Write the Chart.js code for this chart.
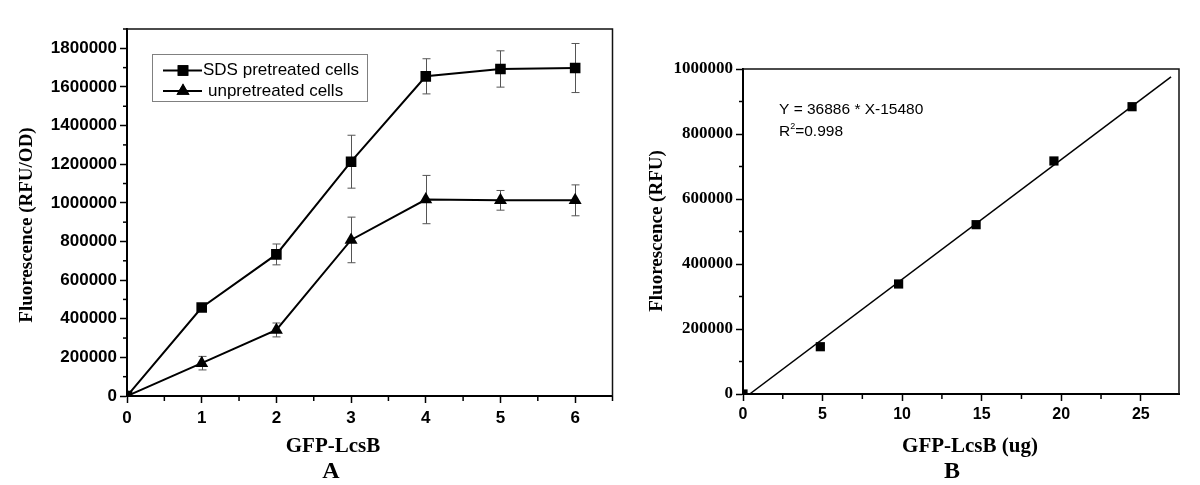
<!DOCTYPE html>
<html><head><meta charset="utf-8">
<script src="https://cdn.jsdelivr.net/npm/chart.js@4.4.1/dist/chart.umd.min.js"></script>
<style>
html,body{margin:0;padding:0;background:#fff;width:1200px;height:485px;overflow:hidden;}
#a{position:absolute;left:0;top:0;}
#b{position:absolute;left:620px;top:0;}
</style></head><body>
<canvas id="a" width="620" height="485"></canvas>
<canvas id="b" width="580" height="485"></canvas>
<script>
// ---- Panel A data ----
const doseA = [0, 1, 2, 3, 4, 5, 6];
const sdsPretreated = [0, 458000, 733000, 1213000, 1655000, 1693000, 1698000];
const sdsErrors = [0, 0, 54000, 137000, 91000, 94000, 127000];
const unpretreated = [0, 170000, 342000, 808000, 1017000, 1013000, 1013000];
const unpErrors = [0, 35000, 36000, 118000, 125000, 51000, 80000];
const xTicksA = [0, 1, 2, 3, 4, 5, 6];
const xMinorA = [0.5, 1.5, 2.5, 3.5, 4.5, 5.5, 6.5];
const yTicksA = [0, 200000, 400000, 600000, 800000, 1000000, 1200000, 1400000, 1600000, 1800000];
const yMinorA = [100000, 300000, 500000, 700000, 900000, 1100000, 1300000, 1500000, 1700000, 1900000];
const legendA = ['SDS pretreated cells', 'unpretreated cells'];

// ---- Panel B data ----
const massB = [0, 4.86, 9.78, 14.65, 19.54, 24.45];
const fluorB = [0, 145500, 338500, 521000, 717000, 884000];
const fitX = [0.42, 26.9];
const fitY = [0, 976000];
const xTicksB = [0, 5, 10, 15, 20, 25];
const xMinorB = [2.5, 7.5, 12.5, 17.5, 22.5];
const yTicksB = [0, 200000, 400000, 600000, 800000, 1000000];
const yMinorB = [100000, 300000, 500000, 700000, 900000];

const SANS = '"Liberation Sans", Arial, sans-serif';
const SERIF = '"Liberation Serif", "Times New Roman", serif';

function pts(xs, ys){ return xs.map((x,i)=>({x:x, y:ys[i]})); }

function text(ctx, s, x, y, font, align, rot){
  ctx.save(); ctx.font = font; ctx.fillStyle = '#000';
  ctx.textAlign = align || 'center'; ctx.textBaseline = 'middle';
  ctx.translate(x, y); if (rot) ctx.rotate(rot);
  ctx.fillText(s, 0, 0); ctx.restore();
}

function minor(chart, id, values, len){
  const s = chart.scales[id], ctx = chart.ctx;
  ctx.save(); ctx.strokeStyle = '#000'; ctx.lineWidth = 1.5;
  values.forEach(v=>{
    const p = s.getPixelForValue(v);
    ctx.beginPath();
    if (s.isHorizontal()) { ctx.moveTo(p, s.top); ctx.lineTo(p, s.top + len); }
    else { ctx.moveTo(s.right, p); ctx.lineTo(s.right - len, p); }
    ctx.stroke();
  });
  ctx.restore();
}

function frame(chart){
  const a = chart.chartArea, ctx = chart.ctx;
  ctx.save(); ctx.strokeStyle = '#111'; ctx.lineWidth = 1.5;
  ctx.beginPath(); ctx.moveTo(a.left, a.top); ctx.lineTo(a.right, a.top); ctx.lineTo(a.right, a.bottom); ctx.stroke();
  ctx.restore();
}

const errorBars = {
  id: 'errorBars',
  beforeDatasetsDraw(chart){
    const ctx = chart.ctx, xs = chart.scales.x, ys = chart.scales.y;
    ctx.save(); ctx.strokeStyle = '#555'; ctx.lineWidth = 1;
    chart.data.datasets.forEach(ds=>{
      if (!ds.errors) return;
      ds.data.forEach((p,i)=>{
        const e = ds.errors[i]; if (!e) return;
        const px = Math.round(xs.getPixelForValue(p.x)) + 0.5;
        const y1 = ys.getPixelForValue(p.y + e), y2 = ys.getPixelForValue(p.y - e);
        ctx.beginPath();
        ctx.moveTo(px, y1); ctx.lineTo(px, y2);
        ctx.moveTo(px - 4, y1); ctx.lineTo(px + 4, y1);
        ctx.moveTo(px - 4, y2); ctx.lineTo(px + 4, y2);
        ctx.stroke();
      });
    });
    ctx.restore();
  }
};

function axisOpts(min, max, ticks, font, w, isX, pad){
  return {
    type: 'linear', min: min, max: max,
    afterBuildTicks(s){ s.ticks = ticks.map(v=>({value:v})); },
    afterFit(s){ if (isX) s.height = w; else s.width = w; },
    grid: { drawOnChartArea: false, drawTicks: true, tickLength: 7, tickColor: '#000', tickWidth: 1.5 },
    border: { display: true, color: '#000', width: 2 },
    ticks: { color: '#000', font: font, padding: pad, maxRotation: 0, autoSkip: false,
             callback: (v)=> String(v) }
  };
}

// ---------------- Chart A ----------------
new Chart(document.getElementById('a'), {
  type: 'scatter',
  data: { datasets: [
    { label: legendA[0], data: pts(doseA, sdsPretreated), errors: sdsErrors, showLine: true,
      borderColor: '#000', borderWidth: 2, backgroundColor: '#000', pointBackgroundColor: '#000',
      pointBorderColor: '#000', pointStyle: 'rect', pointRadius: 7.5, pointBorderWidth: 0 },
    { label: legendA[1], data: pts(doseA, unpretreated), errors: unpErrors, showLine: true,
      borderColor: '#000', borderWidth: 2, backgroundColor: '#000', pointBackgroundColor: '#000',
      pointBorderColor: '#000', pointStyle: 'triangle', pointRadius: 7.5, pointBorderWidth: 0 }
  ]},
  options: {
    responsive: false, animation: false, devicePixelRatio: 1,
    layout: { padding: { left: 0, right: 2, top: 29, bottom: 0 } },
    plugins: { legend: { display: false }, tooltip: { enabled: false } },
    scales: {
      x: axisOpts(0, 6.5, xTicksA, { family: SANS, size: 17, weight: 'bold' }, 89, true, 5),
      y: axisOpts(0, 1900000, yTicksA, { family: SANS, size: 17, weight: 'bold' }, 127, false, 3)
    }
  },
  plugins: [errorBars, {
    id: 'decorA',
    afterDraw(chart){
      const ctx = chart.ctx;
      frame(chart);
      minor(chart, 'x', xMinorA, 5);
      minor(chart, 'y', yMinorA, 4);
      text(ctx, 'Fluorescence (RFU/OD)', 27, 225, 'bold 19px ' + SERIF, 'center', -Math.PI/2);
      text(ctx, 'GFP-LcsB', 333, 447, 'bold 21px ' + SERIF);
      text(ctx, 'A', 331, 472, 'bold 24px ' + SERIF);
      // legend
      ctx.save();
      ctx.strokeStyle = '#808080'; ctx.lineWidth = 1;
      ctx.strokeRect(152.5, 54.5, 215, 47);
      ctx.strokeStyle = '#000'; ctx.lineWidth = 2; ctx.fillStyle = '#000';
      const rows = [70.5, 91];
      rows.forEach((y, i)=>{
        ctx.beginPath(); ctx.moveTo(163, y); ctx.lineTo(202, y); ctx.stroke();
        Chart.helpers.drawPoint(ctx, { pointStyle: i === 0 ? 'rect' : 'triangle', radius: 7.5, borderWidth: 0 }, 183, y);
        ctx.fill();
      });
      ctx.restore();
      text(ctx, legendA[0], 203, 70.5, '17px ' + SANS, 'left');
      text(ctx, legendA[1], 208, 91, '17px ' + SANS, 'left');
    }
  }]
});

// ---------------- Chart B ----------------
new Chart(document.getElementById('b'), {
  type: 'scatter',
  data: { datasets: [
    { label: 'data', data: pts(massB, fluorB), showLine: false,
      backgroundColor: '#000', pointBackgroundColor: '#000', pointBorderColor: '#000',
      pointStyle: 'rect', pointRadius: 6.5, pointBorderWidth: 0 },
    { label: 'fit', data: pts(fitX, fitY), showLine: true, borderColor: '#000', borderWidth: 1.5,
      pointRadius: 0 }
  ]},
  options: {
    responsive: false, animation: false, devicePixelRatio: 1,
    layout: { padding: { left: 0, right: 21, top: 69, bottom: 0 } },
    plugins: { legend: { display: false }, tooltip: { enabled: false } },
    scales: {
      x: axisOpts(0, 27.4, xTicksB, { family: SANS, size: 16, weight: 'bold' }, 91, true, 4),
      y: axisOpts(0, 1000000, yTicksB, { family: SERIF, size: 17, weight: 'bold' }, 123, false, 3)
    }
  },
  plugins: [{
    id: 'decorB',
    afterDraw(chart){
      const ctx = chart.ctx;
      frame(chart);
      minor(chart, 'x', xMinorB, 5);
      minor(chart, 'y', yMinorB, 4);
      text(ctx, 'Fluorescence (RFU)', 37, 231, 'bold 19px ' + SERIF, 'center', -Math.PI/2);
      text(ctx, 'GFP-LcsB (ug)', 350, 447, 'bold 21px ' + SERIF);
      text(ctx, 'B', 332, 472, 'bold 24px ' + SERIF);
      text(ctx, 'Y = 36886 * X-15480', 159, 110, '15.5px ' + SANS, 'left');
      ctx.save(); ctx.font = '15.5px ' + SANS;
      const rw = ctx.measureText('R').width; ctx.restore();
      text(ctx, 'R', 159, 132, '15.5px ' + SANS, 'left');
      text(ctx, '2', 159 + rw, 127, '9px ' + SANS, 'left');
      text(ctx, '=0.998', 159 + rw + 5, 132, '15.5px ' + SANS, 'left');
    }
  }]
});
</script>
</body></html>
